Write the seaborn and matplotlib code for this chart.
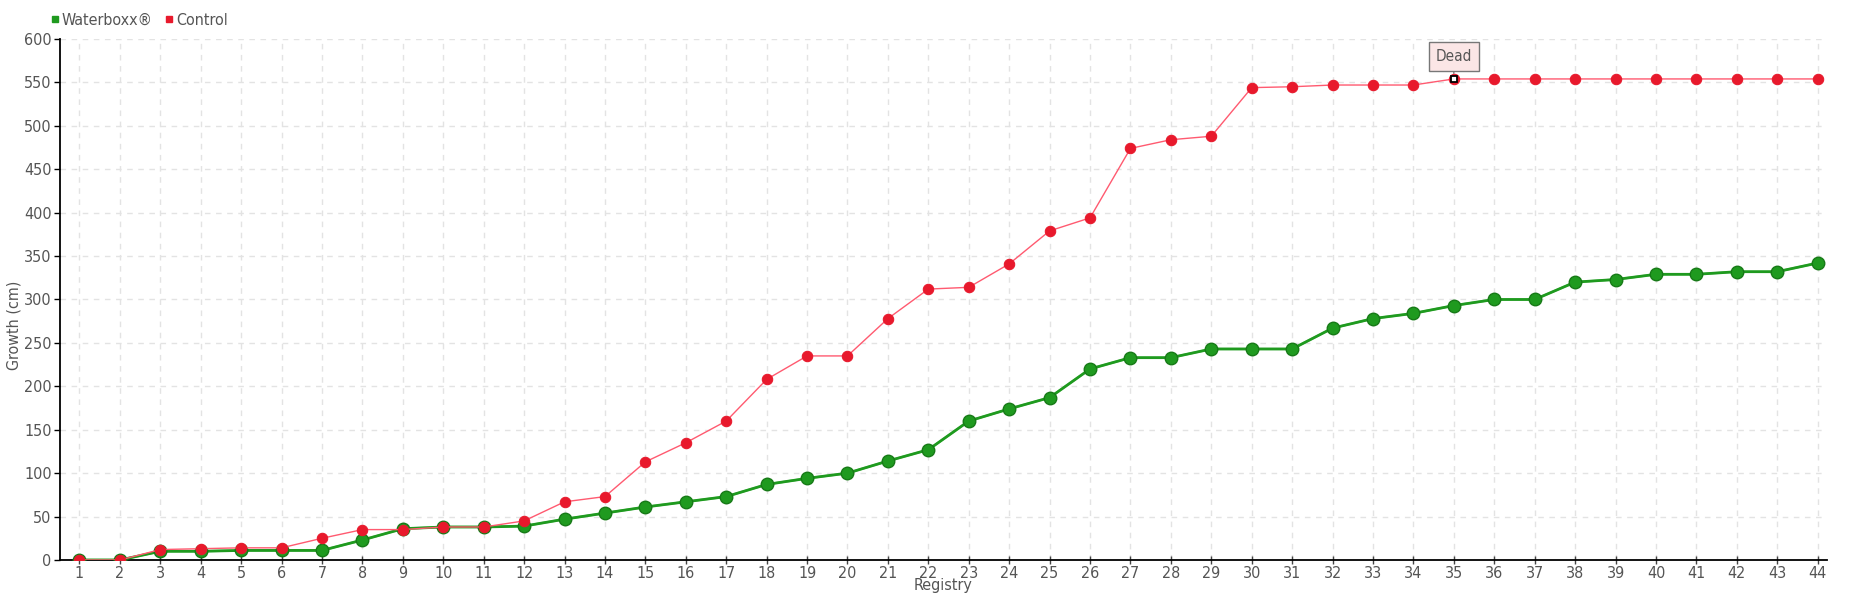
import matplotlib
matplotlib.use("Agg")
import matplotlib.pyplot as plt
import seaborn as sns
import pandas as pd
from matplotlib import font_manager
from matplotlib.lines import Line2D

registry = list(range(1, 45))
waterboxx = [0, 0, 10, 10, 11, 11, 11, 23, 36, 38, 38, 39, 47, 54, 61, 67, 73, 87, 94, 100,
             114, 127, 160, 174, 187, 220, 233, 233, 243, 243, 243, 267, 278, 284, 293, 300,
             300, 320, 323, 329, 329, 332, 332, 342]
control = [0, 0, 12, 13, 14, 14, 25, 35, 35, 38, 38, 45, 67, 73, 113, 135, 160, 208, 235, 235,
           278, 312, 314, 341, 379, 394, 474, 484, 488, 544, 545, 547, 547, 547, 554, 554,
           554, 554, 554, 554, 554, 554, 554, 554]
dead_index = 35
dead_label = "Dead"
series_names = ["Waterboxx®", "Control"]
y_ticks = list(range(0, 601, 50))

names = {f.name for f in font_manager.fontManager.ttflist}
sns.set_theme(style="white")
if "Liberation Sans Narrow" in names:
    fam = ["Liberation Sans Narrow", "DejaVu Sans"]
    stretch = "normal"
else:
    fam = ["DejaVu Sans"]
    stretch = "condensed"
plt.rcParams["font.family"] = fam
plt.rcParams["font.stretch"] = stretch

TXT = "#555555"
GREEN = "#1f9a1f"
GREEN_L = "#6fd06f"
RED = "#e8192c"
RED_L = "#ff5a70"

df_g = pd.DataFrame({"Registry": registry, "Growth": waterboxx})
df_c = pd.DataFrame({"Registry": registry, "Growth": control})

fig = plt.figure(figsize=(18.6, 6), dpi=100)
ax = fig.add_axes([0.0323, 0.0667, 0.9497, 0.8683])

sns.lineplot(data=df_g, x="Registry", y="Growth", ax=ax, color=GREEN_L, linewidth=1.6,
             zorder=2, legend=False)
sns.lineplot(data=df_g, x="Registry", y="Growth", ax=ax, color=GREEN, linewidth=2.0,
             marker="o", markersize=9, markerfacecolor=GREEN, markeredgecolor="#177a17",
             markeredgewidth=1, zorder=3, legend=False)
sns.lineplot(data=df_c, x="Registry", y="Growth", ax=ax, color=RED_L, linewidth=1.0,
             marker="o", markersize=7.5, markerfacecolor=RED, markeredgecolor=RED,
             zorder=4, legend=False)

di = registry.index(dead_index)
ax.plot([registry[di]], [control[di]], marker="s", markersize=5, markerfacecolor="white",
        markeredgecolor="black", markeredgewidth=1.3, linestyle="none", zorder=6)
ax.annotate(dead_label, xy=(registry[di], control[di]), xytext=(0, 16),
            textcoords="offset points", ha="center", va="center", fontsize=11, color=TXT,
            bbox=dict(boxstyle="square,pad=0.45", facecolor="#fbe6e6", edgecolor="#777777",
                      linewidth=1),
            arrowprops=dict(arrowstyle="-", color="#777777", lw=1, shrinkA=0, shrinkB=4),
            zorder=7)

ax.set_xlim(0.52, 44.22)
ax.set_ylim(0, 600)
ax.set_xticks(registry)
ax.set_xticklabels([str(r) for r in registry])
ax.set_yticks(y_ticks)
ax.grid(True, color="#e3e3e3", linestyle=(0, (4, 4)), linewidth=1)
ax.set_axisbelow(True)
for s in ["top", "right"]:
    ax.spines[s].set_visible(False)
for s in ["left", "bottom"]:
    ax.spines[s].set_color("black")
    ax.spines[s].set_linewidth(1.3)
ax.tick_params(axis="y", direction="out", length=4, width=1, colors="black",
               labelcolor=TXT, labelsize=11.5, pad=2, left=True)
ax.tick_params(axis="x", direction="inout", length=6, width=1, colors="#444444",
               labelcolor=TXT, labelsize=11.5, pad=1, bottom=True)
ax.set_xlabel("Registry", color=TXT, fontsize=11.5, labelpad=-2)
ax.set_ylabel("Growth (cm)", color=TXT, fontsize=11.5, labelpad=0)
ax.yaxis.set_label_coords(-0.022, 0.45)

handles = [Line2D([], [], marker="s", linestyle="none", color=GREEN, markersize=5),
           Line2D([], [], marker="s", linestyle="none", color=RED, markersize=5)]
fig.legend(handles, series_names, loc="upper left", bbox_to_anchor=(0.019, 1.0), ncol=2,
           frameon=False, fontsize=11.5, handletextpad=0.05, columnspacing=0.6,
           handlelength=0.8, labelcolor=TXT, borderaxespad=0.4)

fig.savefig("out.png", dpi=100)
